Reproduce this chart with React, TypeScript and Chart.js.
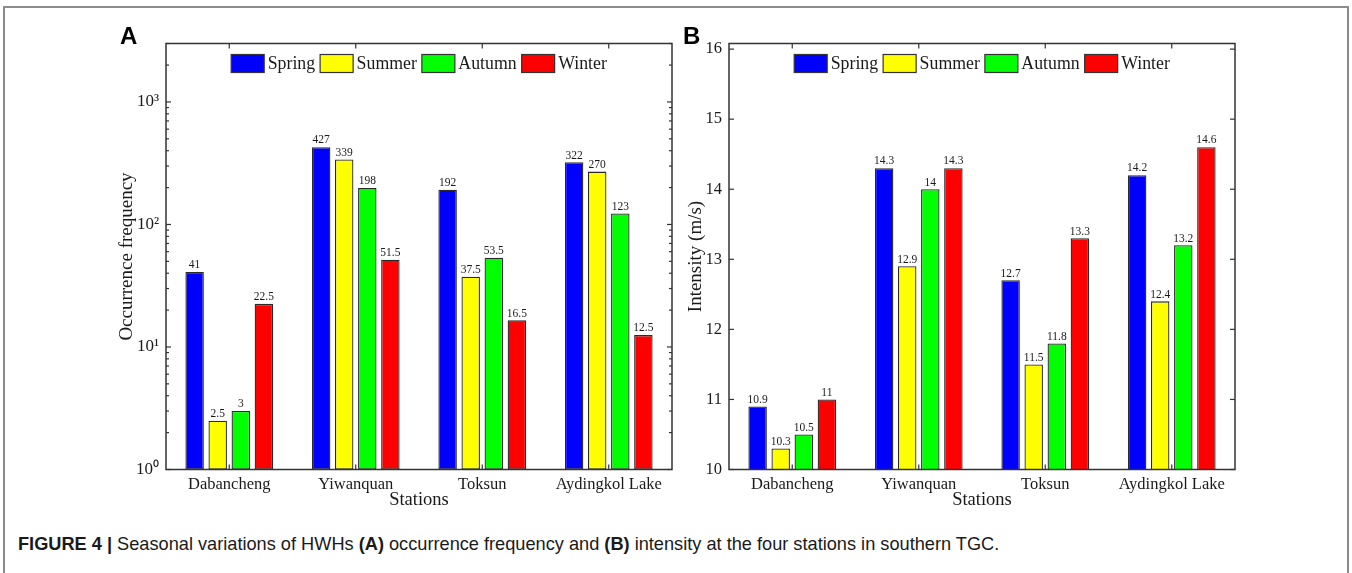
import React, { useEffect, useRef } from "react";
import { Chart, registerables } from "chart.js";
Chart.register(...registerables);

const SERIF = "'Liberation Serif', 'Times New Roman', Times, serif";

const stations = ["Dabancheng", "Yiwanquan", "Toksun", "Aydingkol Lake"];
const seasons = ["Spring", "Summer", "Autumn", "Winter"];
const seasonColors = ["#0000FF", "#FFFF00", "#00FF00", "#FF0000"];

const freqSpring = [41, 427, 192, 322];
const freqSummer = [2.5, 339, 37.5, 270];
const freqAutumn = [3, 198, 53.5, 123];
const freqWinter = [22.5, 51.5, 16.5, 12.5];

const intSpring = [10.9, 14.3, 12.7, 14.2];
const intSummer = [10.3, 12.9, 11.5, 12.4];
const intAutumn = [10.5, 14, 11.8, 13.2];
const intWinter = [11, 14.3, 13.3, 14.6];

const freqTicks = [1, 10, 100, 1000];
const freqTickLabels = ["10\u2070", "10\u00B9", "10\u00B2", "10\u00B3"];
const intTicks = [10, 11, 12, 13, 14, 15, 16];

const matlabAxes = {
  id: "matlabAxes",
  afterDatasetsDraw(chart: any, _args: any, opts: any) {
    const { ctx, chartArea: a, scales } = chart;
    const xs = scales.x;
    const ys = scales.y;
    ctx.save();
    // value labels
    ctx.font = `11.5px ${SERIF}`;
    ctx.fillStyle = "#1a1a1a";
    ctx.textAlign = "center";
    ctx.textBaseline = "bottom";
    chart.data.datasets.forEach((ds: any, di: number) => {
      const meta = chart.getDatasetMeta(di);
      meta.data.forEach((el: any, i: number) => {
        ctx.fillText(String(ds.data[i]), el.x, el.y - 1);
      });
    });
    const line = (x1: number, y1: number, x2: number, y2: number) => {
      ctx.beginPath();
      ctx.moveTo(x1, y1);
      ctx.lineTo(x2, y2);
      ctx.stroke();
    };
    ctx.strokeStyle = "#333";
    ctx.lineWidth = 1.5;
    ctx.strokeRect(a.left, a.top, a.right - a.left, a.bottom - a.top);
    ctx.lineWidth = 1.2;
    xs.ticks.forEach((_t: any, i: number) => {
      const px = xs.getPixelForTick(i);
      line(px, a.bottom, px, a.bottom - 5);
      line(px, a.top, px, a.top + 5);
    });
    ys.ticks.forEach((t: any) => {
      const py = ys.getPixelForValue(t.value);
      line(a.left, py, a.left + 5, py);
      line(a.right, py, a.right - 5, py);
    });
    if (opts && opts.minor) {
      const decades: number[] = opts.decades;
      decades.forEach((d) => {
        for (let m = 2; m <= 9; m++) {
          const v = d * m;
          if (v > ys.max) continue;
          const py = ys.getPixelForValue(v);
          line(a.left, py, a.left + 3, py);
          line(a.right, py, a.right - 3, py);
        }
      });
    }
    // legend inside the axes
    ctx.font = `17.8px ${SERIF}`;
    ctx.textAlign = "left";
    ctx.textBaseline = "middle";
    const boxW = 33;
    const boxH = 18;
    const gapIn = 3.5;
    const gapOut = 5;
    const items = chart.data.datasets.map((ds: any) => ({
      label: ds.label,
      color: ds.backgroundColor,
      w: ctx.measureText(ds.label).width,
    }));
    let total = 0;
    items.forEach((it: any, i: number) => {
      total += boxW + gapIn + it.w + (i < items.length - 1 ? gapOut : 0);
    });
    let cx = (a.left + a.right) / 2 - total / 2;
    const by = a.top + 11;
    ctx.lineWidth = 1.2;
    items.forEach((it: any) => {
      ctx.fillStyle = it.color;
      ctx.fillRect(cx, by, boxW, boxH);
      ctx.strokeStyle = "#333";
      ctx.strokeRect(cx, by, boxW, boxH);
      ctx.fillStyle = "#1a1a1a";
      ctx.fillText(it.label, cx + boxW + gapIn, by + boxH / 2 + 1);
      cx += boxW + gapIn + it.w + gapOut;
    });
    ctx.restore();
  },
};

function makeDatasets(series: number[][]) {
  return seasons.map((s, i) => ({
    label: s,
    data: series[i],
    backgroundColor: seasonColors[i],
    borderColor: "#2a2a2a",
    borderWidth: 1.3,
    borderSkipped: false as any,
    barPercentage: 0.8,
    categoryPercentage: 0.73,
  }));
}

function baseOptions(yAxis: any, yWidth: number, titlePadTop: number, padding: any) {
  return {
    responsive: false,
    animation: false as const,
    layout: { padding },
    plugins: {
      legend: { display: false },
      tooltip: { enabled: false },
    },
    scales: {
      x: {
        type: "category" as const,
        grid: { display: false, drawTicks: false },
        border: { display: false },
        ticks: { color: "#1a1a1a", font: { family: SERIF, size: 16.5 }, padding: 5, maxRotation: 0 },
        title: {
          display: true,
          text: "Stations",
          color: "#1a1a1a",
          font: { family: SERIF, size: 18.5 },
          padding: { top: 0, bottom: 9 },
        },
        afterFit: (s: any) => {
          s.height = 50.5;
        },
      },
      y: {
        ...yAxis,
        grid: { display: false, drawTicks: false },
        border: { display: false },
        title: {
          ...yAxis.title,
          display: true,
          color: "#1a1a1a",
          font: { family: SERIF, size: 19 },
          padding: { top: titlePadTop, bottom: 0 },
        },
        afterFit: (s: any) => {
          s.width = yWidth;
        },
      },
    },
  };
}

export default function App() {
  const refA = useRef<HTMLCanvasElement>(null);
  const refB = useRef<HTMLCanvasElement>(null);

  useEffect(() => {
    const chartA = new Chart(refA.current as HTMLCanvasElement, {
      type: "bar",
      data: {
        labels: stations,
        datasets: makeDatasets([freqSpring, freqSummer, freqAutumn, freqWinter]) as any,
      },
      options: {
        ...(baseOptions(
          {
            type: "logarithmic",
            min: 1,
            max: 3000,
            afterBuildTicks: (s: any) => {
              s.ticks = freqTicks.map((v) => ({ value: v }));
            },
            ticks: {
              color: "#1a1a1a",
              font: { family: SERIF, size: 17 },
              padding: 7,
              callback: (v: any) => {
                const i = freqTicks.indexOf(Number(v));
                return i >= 0 ? freqTickLabels[i] : "";
              },
            },
            title: { text: "Occurrence frequency" },
          },
          146,
          95.5,
          { left: 0, right: 3, top: 43.5, bottom: 0 }
        ) as any),
        plugins: {
          legend: { display: false },
          tooltip: { enabled: false },
          matlabAxes: { minor: true, decades: freqTicks },
        } as any,
      },
      plugins: [matlabAxes as any],
    });

    const chartB = new Chart(refB.current as HTMLCanvasElement, {
      type: "bar",
      data: {
        labels: stations,
        datasets: makeDatasets([intSpring, intSummer, intAutumn, intWinter]) as any,
      },
      options: {
        ...(baseOptions(
          {
            type: "linear",
            min: 10,
            max: 16.08,
            afterBuildTicks: (s: any) => {
              s.ticks = intTicks.map((v) => ({ value: v }));
            },
            ticks: {
              color: "#1a1a1a",
              font: { family: SERIF, size: 16.5 },
              padding: 7,
              callback: (v: any) => String(v),
            },
            title: { text: "Intensity (m/s)" },
          },
          54,
          10,
          { left: 0, right: 40, top: 43.5, bottom: 0 }
        ) as any),
        plugins: {
          legend: { display: false },
          tooltip: { enabled: false },
          matlabAxes: { minor: false },
        } as any,
      },
      plugins: [matlabAxes as any],
    });

    return () => {
      chartA.destroy();
      chartB.destroy();
    };
  }, []);

  const panelLetter: React.CSSProperties = {
    position: "absolute",
    top: 24,
    fontFamily: "'Liberation Sans', Arial, sans-serif",
    fontWeight: 700,
    fontSize: 24,
    lineHeight: "24px",
    color: "#000",
  };

  return (
    <div
      style={{
        position: "fixed",
        left: 0,
        top: 0,
        width: 1352,
        height: 573,
        overflow: "hidden",
        background: "#fff",
      }}
    >
      <div
        style={{
          position: "absolute",
          left: 3,
          top: 6,
          width: 1346,
          height: 620,
          border: "2px solid #8c8c8c",
          boxSizing: "border-box",
        }}
      />
      <canvas
        ref={refA}
        width={655}
        height={520}
        style={{ position: "absolute", left: 20, top: 0, width: 655, height: 520 }}
      />
      <canvas
        ref={refB}
        width={600}
        height={520}
        style={{ position: "absolute", left: 675, top: 0, width: 600, height: 520 }}
      />
      <div style={{ ...panelLetter, left: 120 }}>A</div>
      <div style={{ ...panelLetter, left: 683 }}>B</div>
      <div
        style={{
          position: "absolute",
          left: 18,
          top: 535,
          fontFamily: "'Liberation Sans', Arial, sans-serif",
          fontSize: 18.2,
          lineHeight: "18px",
          color: "#1a1a1a",
          whiteSpace: "nowrap",
        }}
      >
        <b>FIGURE 4 |</b> Seasonal variations of HWHs <b>(A)</b> occurrence frequency and <b>(B)</b> intensity at the four
        stations in southern TGC.
      </div>
    </div>
  );
}
